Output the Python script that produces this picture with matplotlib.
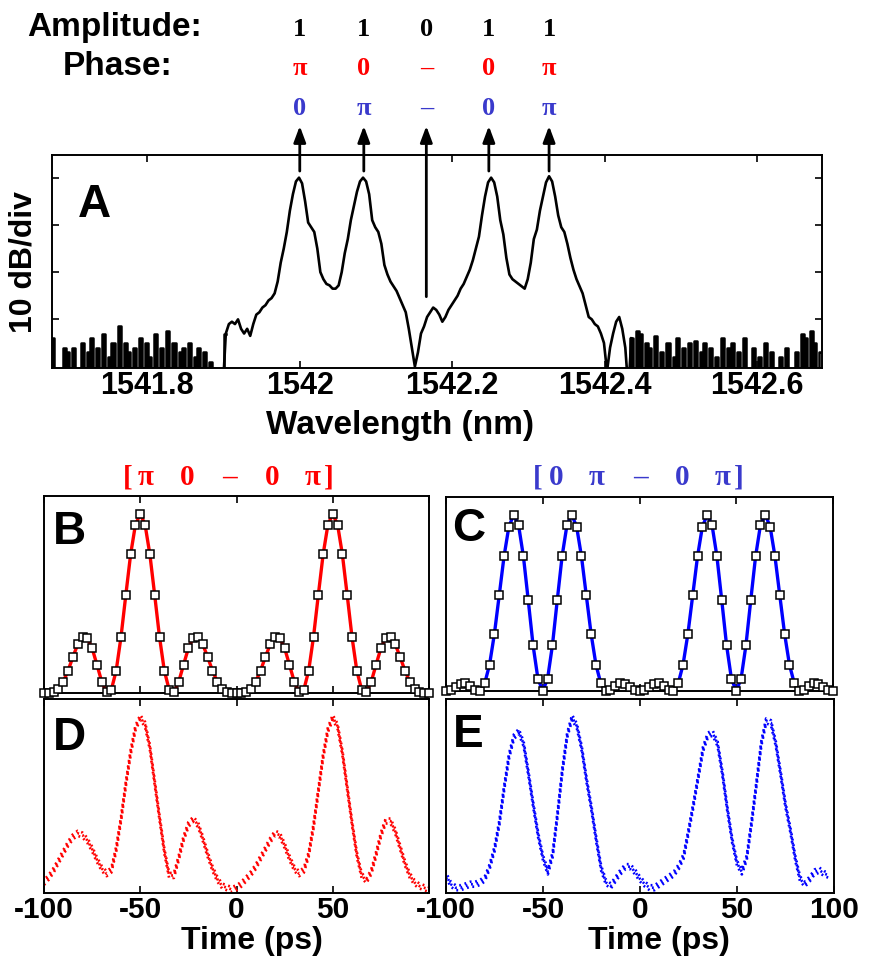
import numpy as np
import matplotlib
matplotlib.use("Agg")
import matplotlib.pyplot as plt
from matplotlib.transforms import blended_transform_factory, offset_copy

plt.rcParams['font.family'] = ['Liberation Sans', 'DejaVu Sans']
plt.rcParams['font.weight'] = 'bold'

# ---------------- comb lines / encoding ----------------
line_wavelengths = [1542.0, 1542.084, 1542.166, 1542.248, 1542.327]
arrow_tail_db = [1.4, 1.4, -25.2, 1.4, 1.4]
amplitudes = ['1', '1', '0', '1', '1']
phase_red = ['π', '0', '–', '0', 'π']
phase_blue = ['0', 'π', '–', '0', 'π']
title_red = ['[', 'π', '0', '–', '0', 'π', ']']
title_blue = ['[', '0', 'π', '–', '0', 'π', ']']

# ---------------- optical spectrum (dB), 0.004 nm sampling ----------------
spectrum_start = 1541.675
spectrum_step = 0.004
noise_left = [-34, -45, -42, -45, -36, -37, -45, -36, -45, -45, -35, -45, -37, -34, -45, -36,
              -45, -33, -45, -38, -35, -45, -31.5, -45, -35, -37, -45, -36, -45, -34, -45, -35,
              -38, -45, -33, -45, -36, -45, -32.5, -45, -35, -45, -37, -36, -45, -35, -45, -38,
              -36, -45, -37, -45, -39]
gap_left = [-45, -45, -45, -45]
spectrum_body = [-33, -31, -30.5, -31, -30, -32, -33, -32,
                 -33.5, -31, -29, -28.5, -27.5, -27, -26, -25.5, -24.5, -22, -18, -15, -11.5, -7,
                 -3.5, -0.8, 0, -1.2, -5, -9.5, -10.5, -11.5, -15, -20, -21.5, -22.5, -22.8, -23.5,
                 -23.5, -22.8, -20, -16, -13, -9, -6, -3, -0.8, 0, -0.8, -3.5, -9, -10.5, -11.5,
                 -14, -18.5, -20.5, -22, -23, -24, -25.5, -27, -28.5, -32, -36, -40, -37, -33,
                 -31.5, -29.5, -28.5, -27.5, -28, -29, -30.5, -29.5, -28, -27, -26, -25, -23.5,
                 -22.5, -21, -19.5, -17.5, -15, -12.5, -8, -4, -1, 0, -1, -4, -9, -12, -17, -20.5,
                 -21.5, -22, -22.5, -23, -23.5, -21.5, -18, -13, -11, -7, -4, -1, 0.3, -0.8, -4,
                 -8, -10.5, -11.5, -14, -17, -19.5, -21.5, -23, -24.5, -27, -29.5, -30, -31, -31.5,
                 -33, -35, -41, -36, -33, -30.5, -29.5, -32, -36, -45]
noise_right = [-34, -45, -32.5, -33, -45, -35, -36, -45, -33.5, -45, -37, -45, -35, -45, -38,
               -34, -45, -36, -45, -35, -45, -34.5, -45, -37, -35, -45, -36, -45, -38, -45, -34,
               -45, -36, -35, -45, -37, -45, -34, -45, -45, -36, -45, -38, -45, -35, -45, -37,
               -45, -45, -38, -45, -36, -45, -45, -37, -45, -33, -34, -45, -32.5, -35, -45, -37]
spectrum_db = noise_left + gap_left + spectrum_body + noise_right

# ---------------- temporal intensity traces ----------------
time_ps = np.arange(-100, 100.01, 2.5)
fit_red = [0, .0003, .005, .023, .063, .125, .201, .271, .313, .307, .25, .158, .063, .005,
           .019, .125, .313, .547, .774, .94, 1.0, .94, .774, .547, .313, .125, .019, .005,
           .063, .158, .25, .307, .313, .271, .201, .125, .063, .023, .005, .0003,
           0, .0003, .005, .023, .063, .125, .201, .271, .313, .307, .25, .158, .063, .005,
           .019, .125, .313, .547, .774, .94, 1.0, .94, .774, .547, .313, .125, .019, .005,
           .063, .158, .25, .307, .313, .271, .201, .125, .063, .023, .005, .0003, 0]
fit_blue = [0, .0075, .025, .041, .043, .028, .0065, .002, .043, .149, .323, .542, .764, .932,
            .999, .940, .764, .515, .259, .070, 0, .070, .259, .515, .764, .940, .999, .932,
            .764, .542, .323, .149, .043, .002, .0065, .028, .043, .041, .025, .0075,
            0, .0075, .025, .041, .043, .028, .0065, .002, .043, .149, .323, .542, .764, .932,
            .999, .940, .764, .515, .259, .070, 0, .070, .259, .515, .764, .940, .999, .932,
            .764, .542, .323, .149, .043, .002, .0065, .028, .043, .041, .025, .0075, 0]
meas_red = [0.06, 0.09, 0.13, 0.18, 0.23, 0.28, 0.32, 0.34, 0.33, 0.30, 0.25, 0.19, 0.14, 0.11,
            0.13, 0.25, 0.42, 0.62, 0.80, 0.94, 1.00, 0.96, 0.83, 0.63, 0.43, 0.24, 0.10, 0.10,
            0.20, 0.31, 0.39, 0.42, 0.39, 0.31, 0.22, 0.14, 0.08, 0.04, 0.03, 0.02, 0.03, 0.05,
            0.08, 0.11, 0.15, 0.20, 0.25, 0.30, 0.34, 0.33, 0.27, 0.20, 0.14, 0.11, 0.13, 0.22,
            0.38, 0.58, 0.78, 0.93, 1.00, 0.95, 0.80, 0.60, 0.40, 0.22, 0.10, 0.07, 0.12, 0.22,
            0.33, 0.41, 0.41, 0.35, 0.26, 0.17, 0.10, 0.06, 0.04, 0.03, 0.02]
time_blue_ps = np.arange(-100, 97.51, 2.5)
meas_blue = [0.10, 0.05, 0.03, 0.03, 0.04, 0.05, 0.05, 0.06, 0.08, 0.15, 0.25, 0.40, 0.60, 0.78,
             0.89, 0.92, 0.85, 0.68, 0.50, 0.33, 0.20, 0.12, 0.22, 0.45, 0.70, 0.90, 1.00, 0.95,
             0.82, 0.64, 0.48, 0.30, 0.14, 0.06, 0.04, 0.08, 0.12, 0.15, 0.15, 0.12, 0.08, 0.05,
             0.03, 0.03, 0.05, 0.07, 0.09, 0.11, 0.15, 0.21, 0.35, 0.50, 0.66, 0.82, 0.90, 0.91,
             0.85, 0.68, 0.48, 0.30, 0.17, 0.12, 0.20, 0.40, 0.62, 0.85, 0.98, 0.97, 0.85, 0.68,
             0.50, 0.36, 0.20, 0.08, 0.05, 0.08, 0.12, 0.13, 0.11, 0.10]

time_ticks = [-100, -50, 0, 50, 100]

RED = '#ff0000'
BLUE_TXT = '#3a3acc'
BLUE = '#0000ff'
SERIF = ['Liberation Serif', 'DejaVu Serif']

W, H = 871, 961
fig = plt.figure(figsize=(W / 100, H / 100), dpi=100)


def px_axes(left, top, right, bottom):
    return fig.add_axes([left / W, 1 - bottom / H, (right - left) / W, (bottom - top) / H])


def style_frame(ax, size=22):
    for s in ax.spines.values():
        s.set_linewidth(1.4)
    ax.tick_params(direction='in', top=True, right=True, length=5, width=1.2,
                   labelsize=size, pad=2)
    for lab in ax.get_xticklabels():
        lab.set_fontweight('bold')


# ---------------- panel A ----------------
axA = px_axes(52, 155, 822, 368)
db = np.array(spectrum_db, dtype=float)
wl = spectrum_start + spectrum_step * np.arange(len(db))
n_left = len(noise_left) + len(gap_left)
n_right = len(db) - len(noise_right)
# noise floor: solid spikes
axA.plot(wl[:n_left + 1], db[:n_left + 1], color='black', lw=1.8, drawstyle='steps-mid')
axA.plot(wl[n_right - 1:], db[n_right - 1:], color='black', lw=1.8, drawstyle='steps-mid')
noise_mask = np.zeros(len(db), dtype=bool)
noise_mask[:n_left] = True
noise_mask[n_right:] = True
axA.fill_between(wl, db, -45, where=noise_mask, step='mid', color='black', lw=0)
# comb lines
axA.plot(wl[n_left - 1:n_right + 1], db[n_left - 1:n_right + 1], color='black', lw=1.9)
axA.set_xlim(1541.675, 1542.685)
axA.set_ylim(-40.3, 4.8)
axA.set_xticks([1541.8, 1542.0, 1542.2, 1542.4, 1542.6])
axA.set_xticklabels(['1541.8', '1542', '1542.2', '1542.4', '1542.6'])
axA.set_yticks([-30, -20, -10, 0])
axA.set_yticklabels([])
style_frame(axA)
axA.set_xlabel('Wavelength (nm)', fontsize=24, fontweight='bold')
axA.xaxis.set_label_coords(0.452, -0.195)
fig.text(23 / W, 1 - 262 / H, '10 dB/div', rotation=90, ha='center', va='center',
         fontsize=23, fontweight='bold')
axA.text(0.034, 0.765, 'A', transform=axA.transAxes, fontsize=33, fontweight='bold',
         va='center', ha='left')

head_y = 1 - 126 / H
for lam, tail in zip(line_wavelengths, arrow_tail_db):
    axA.annotate('', xy=(lam, head_y), xycoords=('data', 'figure fraction'),
                 xytext=(lam, tail), textcoords='data',
                 arrowprops=dict(arrowstyle='-|>,head_width=0.28,head_length=0.75',
                                 lw=2.0, color='black', mutation_scale=13,
                                 shrinkA=0, shrinkB=0),
                 annotation_clip=False)

trans = blended_transform_factory(axA.transData, fig.transFigure)
for lam, a, pr, pb in zip(line_wavelengths, amplitudes, phase_red, phase_blue):
    fig.text(lam, 1 - 36 / H, a, transform=trans, ha='center', va='baseline',
             fontsize=19, fontweight='bold', family=SERIF, color='black')
    fig.text(lam, 1 - 75 / H, pr, transform=trans, ha='center', va='baseline',
             fontsize=19, fontweight='bold', family=SERIF, color=RED)
    fig.text(lam, 1 - 115 / H, pb, transform=trans, ha='center', va='baseline',
             fontsize=19, fontweight='bold', family=SERIF, color=BLUE_TXT)
fig.text(27 / W, 1 - 36 / H, 'Amplitude:', ha='left', va='baseline', fontsize=24,
         fontweight='bold')
fig.text(63 / W, 1 - 75 / H, 'Phase:', ha='left', va='baseline', fontsize=24,
         fontweight='bold')

# ---------------- panels B and C (calculated + measured) ----------------
axB = px_axes(44, 496, 429, 693)
axC = px_axes(446, 497, 833, 691)
title_offsets = [-100, -82, -41, 2, 44, 85, 101]
for ax, fit, col, letter, title, tcol, tx, lx, ly in (
        (axB, fit_red, RED, 'B', title_red, RED, 228, 0.022, 0.817),
        (axC, fit_blue, BLUE, 'C', title_blue, BLUE_TXT, 638, 0.015, 0.835)):
    ax.plot(time_ps, fit, color=col, lw=2.4, zorder=2)
    ax.plot(time_ps, fit, ls='none', marker='s', ms=6, mfc='white', mec='black',
            mew=1.1, zorder=3, clip_on=False)
    ax.set_xlim(-100, 100)
    ax.set_ylim(0, 1.1)
    ax.set_xticks(time_ticks)
    ax.set_xticklabels([])
    ax.set_yticks([])
    style_frame(ax)
    ax.text(lx, ly, letter, transform=ax.transAxes, fontsize=33, fontweight='bold',
            va='center', ha='left')
    for ch, dx in zip(title, title_offsets):
        fig.text((tx + dx) / W, 1 - 485 / H, ch, ha='center', va='baseline', fontsize=21,
                 fontweight='bold', family=SERIF, color=tcol)

# ---------------- panels D and E (measured traces) ----------------
axD = px_axes(44, 699, 429, 893)
axE = px_axes(446, 699, 834, 893)
for ax, t, y, col, letter, labels, xl, lx, ly in (
        (axD, time_ps, meas_red, RED, 'D', ['-100', '-50', '0', '50', ''], 0.54, 0.023, 0.80),
        (axE, time_blue_ps, meas_blue, BLUE, 'E', ['-100', '-50', '0', '50', '100'], 0.549,
         0.018, 0.815)):
    for dy, off in ((-2.5, 0.0), (2.5, 1.0), (0.0, 0.5)):
        tr = offset_copy(ax.transData, fig=fig, x=0, y=dy, units='dots')
        ax.plot(t, y, color=col, lw=1.9, ls=(off, (0.7, 1.4)), transform=tr)
    ax.set_xlim(-100, 100)
    ax.set_ylim(0, 1.105)
    ax.set_xticks(time_ticks)
    ax.set_xticklabels(labels)
    ax.set_yticks([])
    style_frame(ax, size=21.5)
    ax.set_xlabel('Time (ps)', fontsize=23, fontweight='bold')
    ax.xaxis.set_label_coords(xl, -0.17)
    ax.text(lx, ly, letter, transform=ax.transAxes, fontsize=33, fontweight='bold',
            va='center', ha='left')

fig.savefig('out.png', dpi=100)
